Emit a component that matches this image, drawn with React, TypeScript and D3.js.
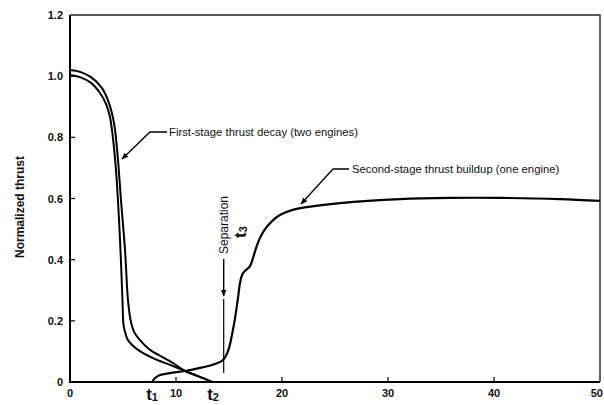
import React from "react";
import * as d3 from "d3";

const xTicks = [0, 10, 20, 30, 40, 50];
const yTicks = [0, 0.2, 0.4, 0.6, 0.8, 1.0, 1.2];
const yTickLabels = ["0", "0.2", "0.4", "0.6", "0.8", "1.0", "1.2"];

// First-stage thrust decay, outer engine curve [time, normalized thrust]
const decayOuter: [number, number][] = [
  [0, 1.02], [0.94, 1.014], [1.98, 0.997], [3.02, 0.961], [3.68, 0.912],
  [4.06, 0.863], [4.25, 0.824], [4.53, 0.726], [4.81, 0.595], [5.19, 0.432],
  [5.47, 0.268], [5.75, 0.196], [6.04, 0.164], [6.6, 0.137], [7.55, 0.105],
  [8.68, 0.082], [9.72, 0.062], [10.85, 0.036], [11.8, 0.023], [12.74, 0.01],
  [13.2, 0.003], [13.5, 0],
];

// First-stage thrust decay, inner engine curve
const decayInner: [number, number][] = [
  [0, 1.004], [0.94, 0.997], [1.98, 0.978], [2.83, 0.945], [3.4, 0.909],
  [3.77, 0.867], [3.96, 0.824], [4.34, 0.693], [4.72, 0.464], [4.95, 0.268],
  [5.05, 0.186], [5.19, 0.164], [5.47, 0.137], [6.42, 0.105], [7.83, 0.078],
  [9.43, 0.056], [10.85, 0.036], [11.8, 0.023], [12.74, 0.01], [13.2, 0.003],
  [13.5, 0],
];

// Second-stage thrust buildup (one engine)
const buildup: [number, number][] = [
  [7.74, 0], [8.02, 0.013], [8.49, 0.023], [9.43, 0.029], [10.85, 0.036],
  [12.26, 0.046], [13.68, 0.059], [14.34, 0.069], [14.7, 0.085], [15.0, 0.111],
  [15.28, 0.154], [15.57, 0.209], [15.85, 0.275], [16.04, 0.324], [16.23, 0.35],
  [16.5, 0.363], [16.98, 0.379], [17.26, 0.405], [17.55, 0.438], [17.92, 0.471],
  [18.4, 0.5], [19.06, 0.526], [19.8, 0.546], [20.94, 0.562], [22.36, 0.572],
  [25.47, 0.585], [31.13, 0.598], [35.85, 0.602], [40.57, 0.602], [46.2, 0.598],
  [50, 0.592],
];

const tMarks = [
  { t: 7.74, label: "t", sub: "1" },
  { t: 13.5, label: "t", sub: "2" },
];
const separationT = 14.5;

export default function App() {
  const W = 604, H = 405;
  const left = 70, right = 600, top = 15, bottom = 382;
  const x = d3.scaleLinear().domain([0, 50]).range([left, right]);
  const y = d3.scaleLinear().domain([0, 1.2]).range([bottom, top]);
  const line = d3
    .line<[number, number]>()
    .x((d) => x(d[0]))
    .y((d) => y(d[1]))
    .curve(d3.curveCatmullRom.alpha(0.5));

  const font = "'Liberation Sans', Arial, Helvetica, sans-serif";
  const sx = x(separationT);

  return (
    <svg
      width={W}
      height={H}
      style={{ position: "absolute", left: 0, top: 0, background: "#fff" }}
      fontFamily={font}
    >
      <defs>
        <marker id="arr" viewBox="0 0 10 10" refX="9" refY="5" markerWidth="7" markerHeight="7" orient="auto-start-reverse" markerUnits="userSpaceOnUse">
          <path d="M0,1 L10,5 L0,9 z" fill="#000" />
        </marker>
      </defs>
      {/* frame */}
      <path
        d={`M${left},${top} L${right},${top} L${right},${bottom}`}
        fill="none"
        stroke="#222"
        strokeWidth={1.4}
      />
      <line x1={left} y1={top} x2={left} y2={bottom + 1} stroke="#000" strokeWidth={2} />
      <line x1={left - 1} y1={bottom} x2={right} y2={bottom} stroke="#000" strokeWidth={2} />
      {/* y ticks */}
      {yTicks.map((v, i) => (
        <g key={"y" + i}>
          {v > 0 && v < 1.2 && (
            <line x1={left} x2={left + 5} y1={y(v)} y2={y(v)} stroke="#000" strokeWidth={1.2} />
          )}
          <text x={left - 7} y={y(v) + 4} textAnchor="end" fontSize={11} fontWeight="bold" fill="#111">
            {yTickLabels[i]}
          </text>
        </g>
      ))}
      {/* x ticks */}
      {xTicks.map((t, i) => (
        <g key={"x" + i}>
          {t > 0 && t < 50 && (
            <line x1={x(t)} x2={x(t)} y1={bottom} y2={bottom - 5} stroke="#000" strokeWidth={1.2} />
          )}
          <text
            x={t === 50 ? W - 1 : x(t)}
            y={bottom + 15}
            textAnchor={t === 50 ? "end" : "middle"}
            fontSize={11}
            fontWeight="bold"
            fill="#111"
          >
            {t}
          </text>
        </g>
      ))}
      {/* t1, t2 */}
      {tMarks.map((m, i) => (
        <text key={"t" + i} x={x(m.t)} y={bottom + 18} textAnchor="middle" fontSize={17} fontWeight="bold" fill="#111">
          {m.label}
          <tspan fontSize={11} dy={1}>{m.sub}</tspan>
        </text>
      ))}
      {/* y axis title */}
      <text
        transform={`translate(24,207) rotate(-90)`}
        textAnchor="middle"
        fontSize={12}
        fontWeight="bold"
        fill="#111"
      >
        Normalized thrust
      </text>
      {/* curves */}
      <path d={line(decayOuter) || ""} fill="none" stroke="#000" strokeWidth={2} />
      <path d={line(decayInner) || ""} fill="none" stroke="#000" strokeWidth={2} />
      <path d={line(buildup) || ""} fill="none" stroke="#000" strokeWidth={2.2} />
      {/* separation marker */}
      <line x1={sx} x2={sx} y1={259} y2={296} stroke="#000" strokeWidth={1.4} markerEnd="url(#arr)" />
      <line x1={sx} x2={sx} y1={299} y2={373} stroke="#000" strokeWidth={1.2} />
      <text
        transform={`translate(${sx + 4},254) rotate(-90)`}
        textAnchor="start"
        fontSize={12}
        fill="#111"
      >
        Separation
      </text>
      <text
        transform={`translate(${sx + 22},238) rotate(-90)`}
        textAnchor="start"
        fontSize={17}
        fontWeight="bold"
        fill="#111"
      >
        t<tspan fontSize={11} dy={1}>3</tspan>
      </text>
      {/* annotations */}
      <path d="M167,132 L150,132 L122,159" fill="none" stroke="#000" strokeWidth={1.3} markerEnd="url(#arr)" />
      <text x={169} y={136} fontSize={11.3} fill="#111">
        First-stage thrust decay (two engines)
      </text>
      <path d="M349,169 L333,169 L301,204" fill="none" stroke="#000" strokeWidth={1.3} markerEnd="url(#arr)" />
      <text x={352} y={173} fontSize={11.3} fill="#111">
        Second-stage thrust buildup (one engine)
      </text>
    </svg>
  );
}
